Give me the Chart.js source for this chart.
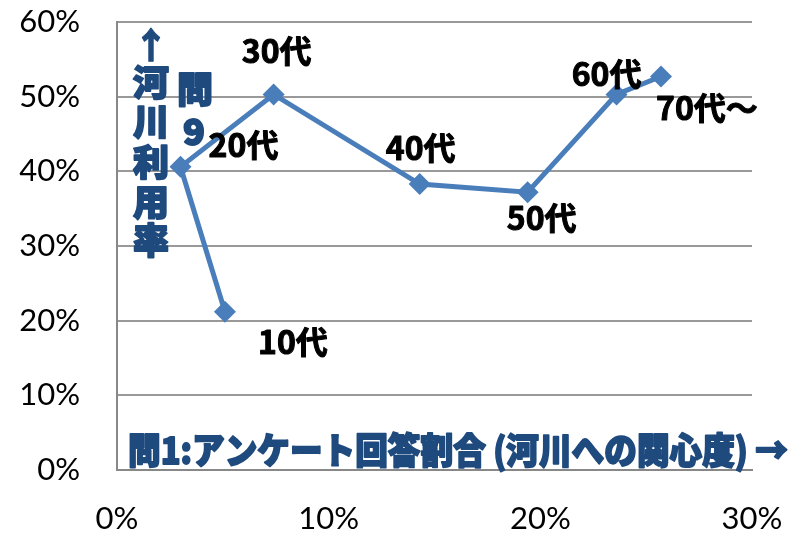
<!DOCTYPE html>
<html>
<head>
<meta charset="utf-8">
<script src="https://cdn.jsdelivr.net/npm/chart.js@4/dist/chart.umd.min.js"></script>
<style>
  html, body { margin: 0; padding: 0; background: #fff; }
  #wrap { width: 796px; height: 536px; }
</style>
</head>
<body>
<div id="wrap"><canvas id="chart" width="796" height="536"></canvas></div>
<script>
// 年代別: 問1 関心度 (x, %) と 問9 河川利用率 (y, %)
const ageLabels = ['10代', '20代', '30代', '40代', '50代', '60代', '70代～'];
const interestRate = [5.1, 3.0, 7.4, 14.3, 19.4, 23.6, 25.7];
const riverUseRate = [21.2, 40.6, 50.3, 38.3, 37.2, 50.3, 52.7];

const xTickMax = 30;
const yTickMax = 60;
const tickStep = 10;

// label placement (pixels from the point)
const labelOffsets = [[68, 30], [63, -22], [3, -44], [1, -36], [14, 26], [-10, -21], [46, 31]];

const points = interestRate.map((x, i) => ({ x: x, y: riverUseRate[i] }));

const lineBlue = '#4A7EBB';
const noteBlue = '#1F4A7E';
const cjk = '"Noto Sans CJK JP", "Noto Sans CJK SC", sans-serif';

// heavy text: fill plus a stroke in the same colour
function heavyText(ctx, txt, x, y, maxW) {
    if (maxW) {
        ctx.strokeText(txt, x, y, maxW);
        ctx.fillText(txt, x, y, maxW);
    } else {
        ctx.strokeText(txt, x, y);
        ctx.fillText(txt, x, y);
    }
}

const annotations = {
    id: 'annotations',
    afterDatasetsDraw(chart) {
        const ctx = chart.ctx;
        const meta = chart.getDatasetMeta(0);
        ctx.save();
        ctx.lineJoin = 'round';
        // point labels
        ctx.fillStyle = '#000';
        ctx.strokeStyle = '#000';
        ctx.lineWidth = 1;
        ctx.font = 'bold 32px ' + cjk;
        ctx.textAlign = 'center';
        ctx.textBaseline = 'middle';
        meta.data.forEach((pt, i) => {
            const off = labelOffsets[i];
            heavyText(ctx, ageLabels[i], pt.x + off[0], pt.y + off[1]);
        });

        // axis notes
        const area = chart.chartArea;
        ctx.fillStyle = noteBlue;
        ctx.strokeStyle = noteBlue;
        ctx.lineWidth = 1.8;
        ctx.font = '900 36px ' + cjk;
        const vx = area.left + 34;
        const vText = ['河', '川', '利', '用', '率'];
        const vY = [82, 121, 162, 202, 240];
        vText.forEach((c, i) => heavyText(ctx, c, vx, vY[i]));
        ctx.lineWidth = 1;
        heavyText(ctx, '↑', vx, 45);

        ctx.lineWidth = 1.8;
        heavyText(ctx, '問', area.left + 78, 89);
        heavyText(ctx, '9', area.left + 77, 131);

        ctx.textAlign = 'left';
        heavyText(ctx, '問1:アンケート回答割合 (河川への関心度) →', area.left + 11, area.bottom - 20, 660);
        ctx.restore();
    }
};

new Chart(document.getElementById('chart'), {
    type: 'scatter',
    data: {
        datasets: [{
            data: points,
            showLine: true,
            borderColor: lineBlue,
            backgroundColor: lineBlue,
            borderWidth: 5,
            pointStyle: 'rectRot',
            pointRadius: 11,
            pointHoverRadius: 11,
            pointBorderWidth: 0,
            tension: 0
        }]
    },
    options: {
        responsive: false,
        animation: false,
        events: [],
        layout: {
            padding: { left: 0, right: 44, top: 22, bottom: 0 }
        },
        scales: {
            x: {
                min: 0,
                max: xTickMax,
                afterFit: s => { s.height = 66; s.paddingLeft = 0; s.paddingRight = 0; },
                grid: { drawOnChartArea: false, drawTicks: false },
                border: { display: true, color: '#888', width: 2 },
                ticks: {
                    stepSize: tickStep,
                    padding: 30,
                    color: '#000',
                    font: { family: 'Lato', size: 31 },
                    callback: v => v + '%'
                }
            },
            y: {
                min: 0,
                max: yTickMax,
                afterFit: s => { s.width = 117; s.paddingTop = 0; s.paddingBottom = 0; },
                grid: { color: '#999', lineWidth: 2, drawTicks: false },
                border: { display: true, color: '#888', width: 2 },
                ticks: {
                    stepSize: tickStep,
                    padding: 37,
                    color: '#000',
                    font: { family: 'Lato', size: 31 },
                    callback: v => v + '%'
                }
            }
        },
        plugins: {
            legend: { display: false },
            tooltip: { enabled: false }
        }
    },
    plugins: [annotations]
});
</script>
</body>
</html>
